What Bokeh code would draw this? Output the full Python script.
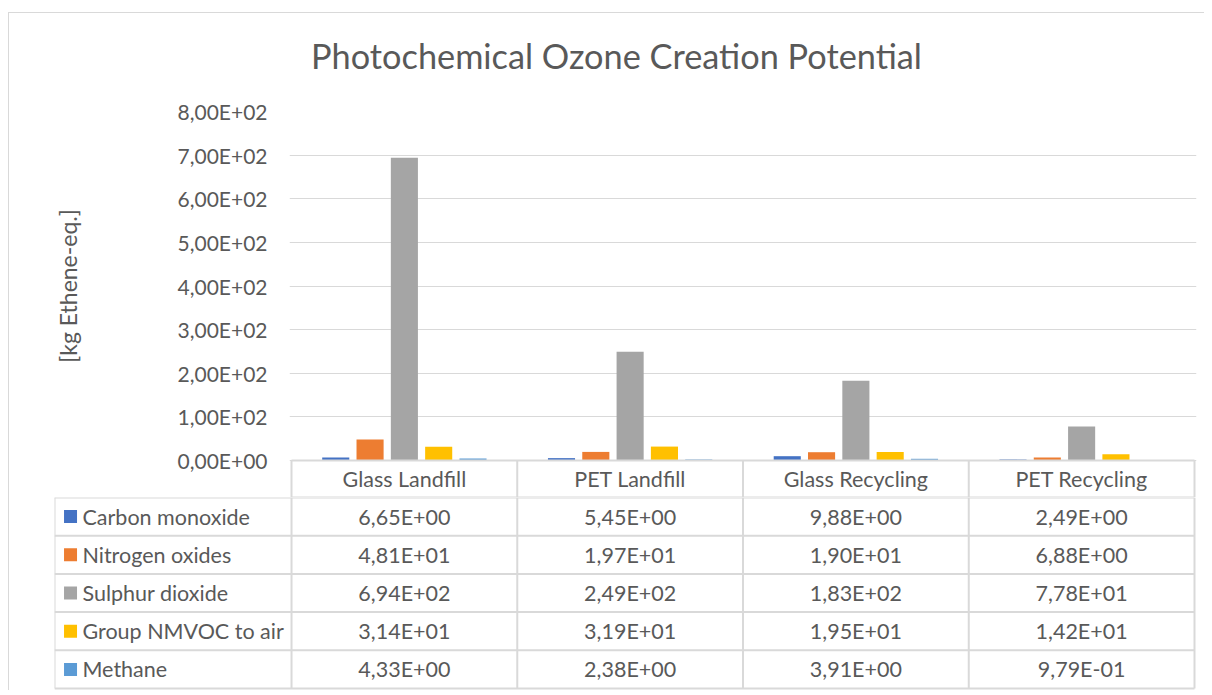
import math
from bokeh.plotting import figure
from bokeh.models import FactorRange, Range1d, ColumnDataSource, FixedTicker
from bokeh.transform import dodge
from bokeh.layouts import column, row
from bokeh.embed import file_html
from bokeh.resources import INLINE
from bokeh.core.properties import value

# ---------------- data ----------------
categories = ["Glass Landfill", "PET Landfill", "Glass Recycling", "PET Recycling"]
series_names = ["Carbon monoxide", "Nitrogen oxides", "Sulphur dioxide",
                "Group NMVOC to air", "Methane"]
carbon_monoxide = [6.65, 5.45, 9.88, 2.49]
nitrogen_oxides = [48.1, 19.7, 19.0, 6.88]
sulphur_dioxide = [694.0, 249.0, 183.0, 77.8]
nmvoc_to_air = [31.4, 31.9, 19.5, 14.2]
methane = [4.33, 2.38, 3.91, 0.979]
y_ticks = [0, 100, 200, 300, 400, 500, 600, 700, 800]
title_text = "Photochemical Ozone Creation Potential"
y_label = "[kg Ethene-eq.]"

series_values = [carbon_monoxide, nitrogen_oxides, sulphur_dioxide, nmvoc_to_air, methane]
colors = ["#4472C4", "#ED7D31", "#A5A5A5", "#FFC000", "#5B9BD5"]

FONT = "Lato"
TXT = "#595959"
GRID = "#D9D9D9"
TFS = "21.5px"


def fmt(v):
    s = "%.2E" % v
    return s.replace(".", ",")


def bare(fig):
    fig.frame_align = False
    fig.grid.visible = False
    return fig


ncat = len(categories)
nser = len(series_names)
ymax = y_ticks[-1]
plot_h = 349          # px of the value area
col_w = 903 / ncat    # px per category
hdr_px = 37           # px of the header row
hdr = ymax * hdr_px / plot_h
pad = 2 / col_w
top_px = 13           # space kept above the value area inside the chart figure
W = 1195

# ---------------- title strip ----------------
p0 = bare(figure(width=W, height=85, x_range=Range1d(0, W), y_range=Range1d(85, 0),
                 output_backend="svg", toolbar_location=None,
                 x_axis_location=None, y_axis_location=None,
                 min_border_left=0, min_border_right=0, min_border_top=0,
                 min_border_bottom=0, outline_line_color=None,
                 background_fill_color="white", border_fill_color="white"))
p0.text(x=[607], y=[42], text=[title_text], text_align="center",
        text_baseline="alphabetic", text_font=value(FONT), text_font_size="34.3px",
        text_color=TXT)

# ---------------- y-axis title strip ----------------
lw = 100
pL = bare(figure(width=lw, height=top_px + plot_h + hdr_px,
                 x_range=Range1d(0, lw),
                 y_range=Range1d(-hdr, ymax + top_px * ymax / plot_h),
                 output_backend="svg", toolbar_location=None,
                 x_axis_location=None, y_axis_location=None,
                 min_border_left=0, min_border_right=0, min_border_top=0,
                 min_border_bottom=0, outline_line_color=None,
                 background_fill_color="white", border_fill_color="white"))
pL.text(x=[58], y=[ymax / 2], text=[y_label], angle=math.pi / 2, text_align="center",
        text_baseline="middle", text_font=value(FONT), text_font_size="23px",
        text_color=TXT)

# ---------------- chart (+ header row of the data table) ----------------
src = ColumnDataSource(dict(cat=categories, **{f"s{i}": v for i, v in enumerate(series_values)}))

p1 = figure(width=W - lw, height=top_px + plot_h + hdr_px,
            x_range=FactorRange(factors=categories, range_padding=pad,
                                range_padding_units="absolute"),
            y_range=Range1d(-hdr, ymax), output_backend="svg", toolbar_location=None,
            x_axis_location=None, min_border_left=280 - lw, min_border_right=8,
            min_border_top=top_px, min_border_bottom=0, outline_line_color=None,
            background_fill_color="white", border_fill_color="white")
p1.frame_align = False

bar_w = 0.12
step = 0.152
n = len(series_values)
for i in range(n):
    off = (i - (n - 1) / 2) * step
    p1.vbar(x=dodge("cat", off, range=p1.x_range), top=f"s{i}", width=bar_w,
            source=src, fill_color=colors[i], line_color=None)

p1.xgrid.visible = False
p1.ygrid.grid_line_color = GRID
p1.ygrid.grid_line_width = 1
p1.yaxis.ticker = FixedTicker(ticks=y_ticks)
p1.yaxis.major_label_overrides = {t: fmt(t) for t in y_ticks}
p1.yaxis.axis_line_color = None
p1.yaxis.major_tick_line_color = None
p1.yaxis.minor_tick_line_color = None
p1.yaxis.major_tick_out = 0
p1.yaxis.major_label_standoff = 22
p1.yaxis.major_label_text_font = FONT
p1.yaxis.major_label_text_font_size = "21px"
p1.yaxis.major_label_text_color = TXT

# header row lines
hx0, hy0, hx1, hy1 = [0], [0], [ncat], [0]
for j in range(ncat + 1):
    hx0.append(j); hy0.append(-hdr); hx1.append(j); hy1.append(0)
hx0.append(0); hy0.append(-hdr); hx1.append(ncat); hy1.append(-hdr)
p1.segment(x0=hx0, y0=hy0, x1=hx1, y1=hy1, line_color=GRID, line_width=2)
p1.text(x=categories, y=[-hdr / 2] * ncat, text=categories,
        text_align="center", text_baseline="middle", text_font=value(FONT),
        text_font_size=TFS, text_color=TXT)

# ---------------- data table body ----------------
left_w = 1.05
row_h = 38.2
p2 = bare(figure(width=W, height=int(round(nser * row_h)) + 2,
                 x_range=Range1d(-left_w, ncat + pad),
                 y_range=Range1d(nser + 2 / row_h, 0),
                 output_backend="svg", toolbar_location=None,
                 x_axis_location=None, y_axis_location=None,
                 min_border_left=45, min_border_right=8, min_border_top=0,
                 min_border_bottom=0, outline_line_color=None,
                 background_fill_color="white", border_fill_color="white"))

x0s, y0s, x1s, y1s = [], [], [], []
for j in range(ncat + 1):
    x0s.append(j); y0s.append(0); x1s.append(j); y1s.append(nser)
x0s.append(-left_w); y0s.append(0); x1s.append(-left_w); y1s.append(nser)
for r in range(nser + 1):
    x0s.append(-left_w); y0s.append(r); x1s.append(ncat); y1s.append(r)
p2.segment(x0=x0s, y0=y0s, x1=x1s, y1=y1s, line_color=GRID, line_width=2)

p2.scatter(x=[-left_w + 0.071] * nser, y=[r + 0.5 for r in range(nser)],
           marker="square", size=13, fill_color=colors, line_color=None)
p2.text(x=[-left_w + 0.124] * nser, y=[r + 0.5 for r in range(nser)], text=series_names,
        text_align="left", text_baseline="middle", text_font=value(FONT),
        text_font_size=TFS, text_color=TXT)

vx, vy, vt = [], [], []
for r, vals in enumerate(series_values):
    for j, v in enumerate(vals):
        vx.append(j + 0.5); vy.append(r + 0.5); vt.append(fmt(v))
p2.text(x=vx, y=vy, text=vt, text_align="center", text_baseline="middle",
        text_font=value(FONT), text_font_size=TFS, text_color=TXT)

layout = column(p0, row(pL, p1), p2,
                styles={"border-left": "1px solid #D9D9D9",
                        "border-top": "1px solid #D9D9D9",
                        "margin-left": "8px", "margin-top": "12px"})

open("out.html", "w").write(file_html(layout, INLINE))
